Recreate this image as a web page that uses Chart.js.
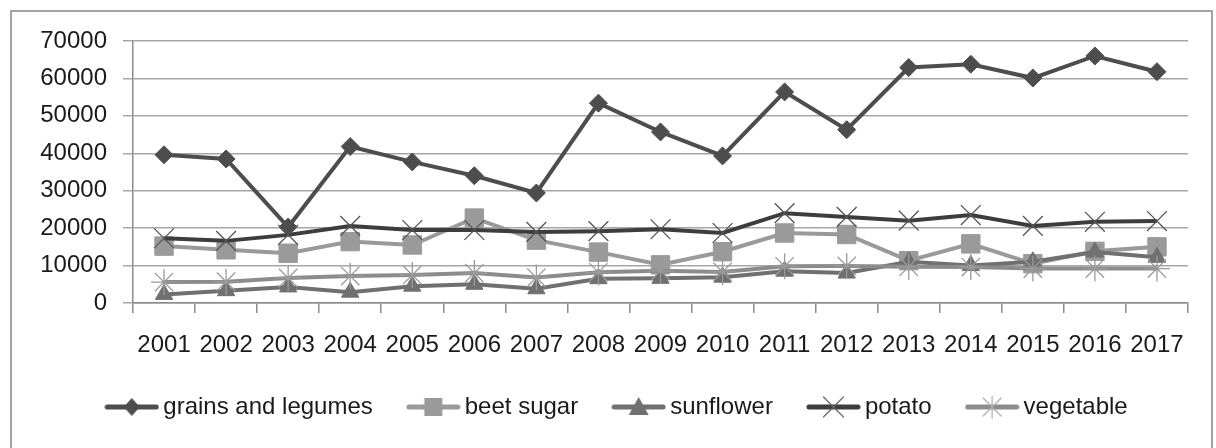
<!DOCTYPE html>
<html>
<head>
<meta charset="utf-8">
<script src="https://cdn.jsdelivr.net/npm/chart.js@4/dist/chart.umd.min.js"></script>
<style>
  body { margin: 0; background: #fff; }
  #frame { position: absolute; left: 10px; top: 10px; width: 1199px; height: 500px; border: 2px solid #a3a3a3; }
  #wrap { position: absolute; left: 0; top: 0; width: 1216px; height: 448px; }
</style>
</head>
<body>
<div id="frame"></div>
<div id="wrap"><canvas id="MyChart"></canvas></div>
<script>
// datos
const years = ['2001','2002','2003','2004','2005','2006','2007','2008','2009','2010','2011','2012','2013','2014','2015','2016','2017']
const yTicks = [0, 10000, 20000, 30000, 40000, 50000, 60000, 70000]
const grains = [39600, 38500, 20300, 41800, 37700, 34000, 29400, 53400, 45700, 39300, 56400, 46300, 62900, 63800, 60100, 66000, 61800]
const beet = [15200, 14200, 13300, 16400, 15500, 22700, 16800, 13600, 10200, 13700, 18700, 18300, 11300, 15800, 10500, 13800, 15000]
const sunflower = [2300, 3300, 4300, 2900, 4500, 5000, 3800, 6500, 6600, 6900, 8500, 8000, 11000, 10000, 11000, 13600, 12200]
const potato = [17300, 16600, 18200, 20600, 19500, 19500, 19000, 19200, 19700, 18700, 24000, 23000, 22000, 23500, 20600, 21700, 21900]
const vegetable = [5600, 5700, 6700, 7200, 7500, 8000, 6800, 8200, 8600, 8300, 9800, 9900, 9700, 9600, 9200, 9200, 9200]
const names = ['grains and legumes', 'beet sugar', 'sunflower', 'potato', 'vegetable']

Chart.defaults.font.family = "'Liberation Sans', Arial, sans-serif"
Chart.defaults.font.size = 24
Chart.defaults.color = '#1a1a1a'

// simbolo de la leyenda: linea + marcador
function legendIcon(color, mark, markColor) {
  const c = document.createElement('canvas')
  c.width = 55; c.height = 24
  const g = c.getContext('2d')
  const m = 27.5
  g.strokeStyle = color; g.lineWidth = 5; g.lineCap = 'round'
  g.beginPath(); g.moveTo(3, 12); g.lineTo(52, 12); g.stroke()
  g.fillStyle = markColor; g.strokeStyle = markColor
  if (mark === 'diamond') {
    g.beginPath(); g.moveTo(m, 3); g.lineTo(m + 8, 12); g.lineTo(m, 21); g.lineTo(m - 8, 12); g.closePath(); g.fill()
  } else if (mark === 'square') {
    g.fillRect(m - 9, 3, 18, 18)
  } else if (mark === 'triangle') {
    g.beginPath(); g.moveTo(m, 2); g.lineTo(m + 10, 20); g.lineTo(m - 10, 20); g.closePath(); g.fill()
  } else if (mark === 'x') {
    g.lineWidth = 1.2; g.strokeStyle = '#666'
    g.beginPath(); g.moveTo(m - 10, 2); g.lineTo(m + 10, 22); g.moveTo(m + 10, 2); g.lineTo(m - 10, 22); g.stroke()
  } else {
    g.lineWidth = 1.2; g.strokeStyle = '#aaa'
    g.beginPath(); g.moveTo(m - 9, 3); g.lineTo(m + 9, 21); g.moveTo(m + 9, 3); g.lineTo(m - 9, 21); g.moveTo(m, 1); g.lineTo(m, 23); g.stroke()
  }
  return c
}

const styles = [
  { line: '#4d4d4d', point: 'rectRot', r: 9, pc: '#4d4d4d', pw: 1, icon: legendIcon('#4d4d4d', 'diamond', '#4d4d4d') },
  { line: '#9a9a9a', point: 'rect', r: 13, pc: '#9a9a9a', pw: 1, icon: legendIcon('#9a9a9a', 'square', '#9a9a9a') },
  { line: '#707070', point: 'triangle', r: 10, pc: '#707070', pw: 1, icon: legendIcon('#707070', 'triangle', '#707070') },
  { line: '#3d3d3d', point: 'crossRot', r: 14, pc: '#555555', pw: 1.3, icon: legendIcon('#3d3d3d', 'x', '#3d3d3d') },
  { line: '#8c8c8c', point: 'star', r: 13, pc: '#9a9a9a', pw: 1.3, icon: legendIcon('#8c8c8c', 'star', '#8c8c8c') }
]
const series = [grains, beet, sunflower, potato, vegetable]

// mover la leyenda para centrarla en el marco
const legendShift = {
  id: 'legendShift',
  afterLayout(chart) {
    chart.legend.left += 26
    chart.legend.right += 26
  }
}

const ctx = document.getElementById('MyChart')
const myChart = new Chart(ctx, {
  type: 'line',
  data: {
    labels: years,
    datasets: series.map((d, i) => ({
      label: names[i],
      data: d,
      order: 5 - i,
      borderColor: styles[i].line,
      backgroundColor: styles[i].pc,
      borderWidth: 4,
      tension: 0,
      pointStyle: styles[i].point,
      pointRadius: styles[i].r,
      pointBackgroundColor: styles[i].pc,
      pointBorderColor: styles[i].pc,
      pointBorderWidth: styles[i].pw
    }))
  },
  plugins: [legendShift],
  options: {
    responsive: true,
    maintainAspectRatio: false,
    animation: false,
    layout: { padding: { left: 0, right: 28, top: 41, bottom: 19 } },
    plugins: {
      tooltip: { enabled: false },
      legend: {
        position: 'bottom',
        labels: {
          usePointStyle: true,
          pointStyleWidth: 39,
          padding: 41,
          color: '#1a1a1a',
          generateLabels: (chart) => chart.data.datasets.map((ds, i) => ({
            text: ds.label,
            pointStyle: styles[i].icon,
            fillStyle: styles[i].line,
            strokeStyle: styles[i].line,
            lineWidth: 0,
            hidden: false,
            datasetIndex: i,
            fontColor: '#1a1a1a'
          }))
        }
      }
    },
    scales: {
      x: {
        offset: true,
        grid: { offset: true, drawOnChartArea: false, drawTicks: true, tickLength: 10, color: '#8c8c8c', lineWidth: 1.5 },
        border: { color: '#8c8c8c', width: 1.5 },
        ticks: { maxRotation: 0, autoSkip: false, padding: 18 },
        afterFit: (s) => { s.height = 51 }
      },
      y: {
        min: 0,
        max: 70000,
        afterBuildTicks: (s) => { s.ticks = yTicks.map(v => ({ value: v })) },
        grid: { color: '#a6a6a6', lineWidth: 1.5, tickLength: 10 },
        border: { color: '#8c8c8c', width: 1.5 },
        ticks: { padding: 16, callback: (v) => String(v) },
        afterFit: (s) => { s.width = 133 }
      }
    }
  }
})
</script>
</body>
</html>
